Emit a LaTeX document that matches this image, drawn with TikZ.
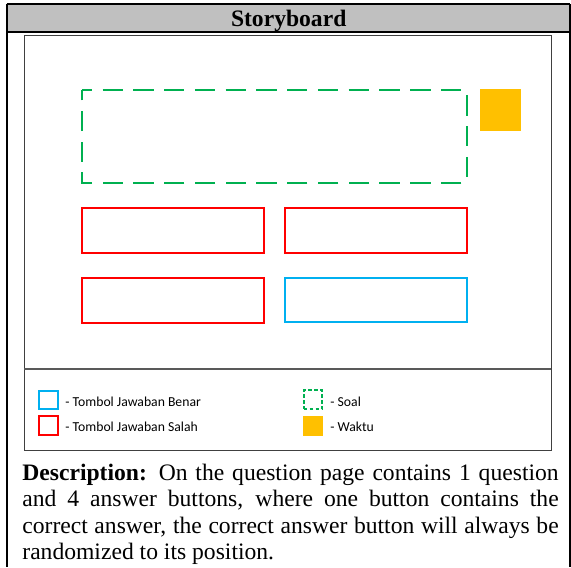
\documentclass[tikz,border=0pt]{standalone}
\usepackage{fontspec}
\setmainfont{Liberation Serif}
\newfontfamily\legendfont{Carlito}

\definecolor{headgray}{RGB}{192,192,192}
\definecolor{framegray}{RGB}{64,64,64}
\definecolor{divgray}{RGB}{89,89,89}
\definecolor{ansred}{RGB}{255,0,0}
\definecolor{ansblue}{RGB}{0,176,240}
\definecolor{soalgreen}{RGB}{0,176,80}
\definecolor{timeorange}{RGB}{255,192,0}

\tikzset{
  box/.style={rectangle, inner sep=0pt, outer sep=0pt},
  tablerule/.style={draw=black, line width=0.8pt},
  screenframe/.style={box, draw=framegray, line width=0.6pt},
  wrongbtn/.style={box, draw=ansred, line width=0.9pt, minimum width=91pt, minimum height=22.5pt},
  rightbtn/.style={box, draw=ansblue, line width=0.9pt, minimum width=91pt, minimum height=22pt},
  soalline/.style={draw=soalgreen, line width=1pt, dash pattern=on 10.15pt off 5.23pt, dash phase=5.075pt},
  timer/.style={box, fill=timeorange},
  keysq/.style={box, line width=0.9pt, minimum width=9.5pt, minimum height=9pt},
  keytext/.style={inner sep=0pt, anchor=base west, font=\legendfont\fontsize{6.85pt}{8pt}\selectfont},
}

\begin{document}
\begin{tikzpicture}[x=0.5pt, y=-0.5pt]
\useasboundingbox (0,0) rectangle (571,567);

% table header band
\node[box, fill=headgray, minimum width=281.75pt, minimum height=14.15pt] (band) at (288.45,18.15) {};
\node[anchor=base, inner sep=0pt, font=\bfseries\fontsize{11.8pt}{13pt}\selectfont] (title) at (288.7,26.5) {Storyboard};
\coordinate (pagebottom) at (0,567);
\draw[tablerule] (band.north west) -- (band.north east);
\draw[tablerule] (band.south west) -- (band.south east);
\draw[tablerule] (band.north west) -- (band.north west |- pagebottom);
\draw[tablerule] (band.north east) -- (band.north east |- pagebottom);

% screen frame and legend divider
\node[screenframe, minimum width=263.5pt, minimum height=207.55pt] (screen) at (287.8,243.05) {};
\coordinate (divy) at (0,369.3);
\draw[draw=divgray, line width=1pt] (screen.west |- divy) -- (screen.east |- divy);

% question area
\node[box, minimum width=192.25pt, minimum height=46.15pt] (soal) at (274.25,136.35) {};
\draw[soalline] (soal.north west) -- (soal.north east) -- (soal.south east) -- (soal.south west) -- cycle;

% timer
\node[timer, minimum width=20.65pt, minimum height=20.85pt] (waktu) at (500.35,110.15) {};

% answer buttons
\node[wrongbtn] (btnA) at (173,230.5) {};
\node[wrongbtn] (btnB) at (376,230.5) {};
\node[wrongbtn, minimum height=22.35pt] (btnC) at (173,300.65) {};
\node[rightbtn] (btnD) at (376,299.7) {};

% legend
\node[keysq, draw=ansblue] (kbluesq) at (48.8,400) {};
\node[keysq, draw=ansred, minimum height=9.35pt] (kredsq) at (48.8,425.65) {};
\node[keysq, draw=soalgreen, dash pattern=on 1.8pt off 1.2pt, minimum width=9.3pt, minimum height=9.35pt] (kgreensq) at (313,399.65) {};
\node[timer, minimum width=10pt, minimum height=10pt] (korangesq) at (312.7,426) {};

\node[keytext] (kbenar) at (65,406) {- Tombol Jawaban Benar};
\node[keytext] (ksalah) at (65,431.3) {- Tombol Jawaban Salah};
\node[keytext] (ksoal) at (330,406) {- Soal};
\node[keytext] (kwaktu) at (330,431.3) {- Waktu};

% description
\node[anchor=base west, inner sep=0pt, text width=268.15pt, align=justify,
      font=\fontsize{11.8pt}{13.3pt}\selectfont] (desc) at (22,480)
  {\textbf{Description:} On the question page contains 1 question\linebreak
   and 4 answer buttons, where one button contains the\linebreak
   correct answer, the correct answer button will always be\linebreak
   randomized to its position.};
\end{tikzpicture}
\end{document}
